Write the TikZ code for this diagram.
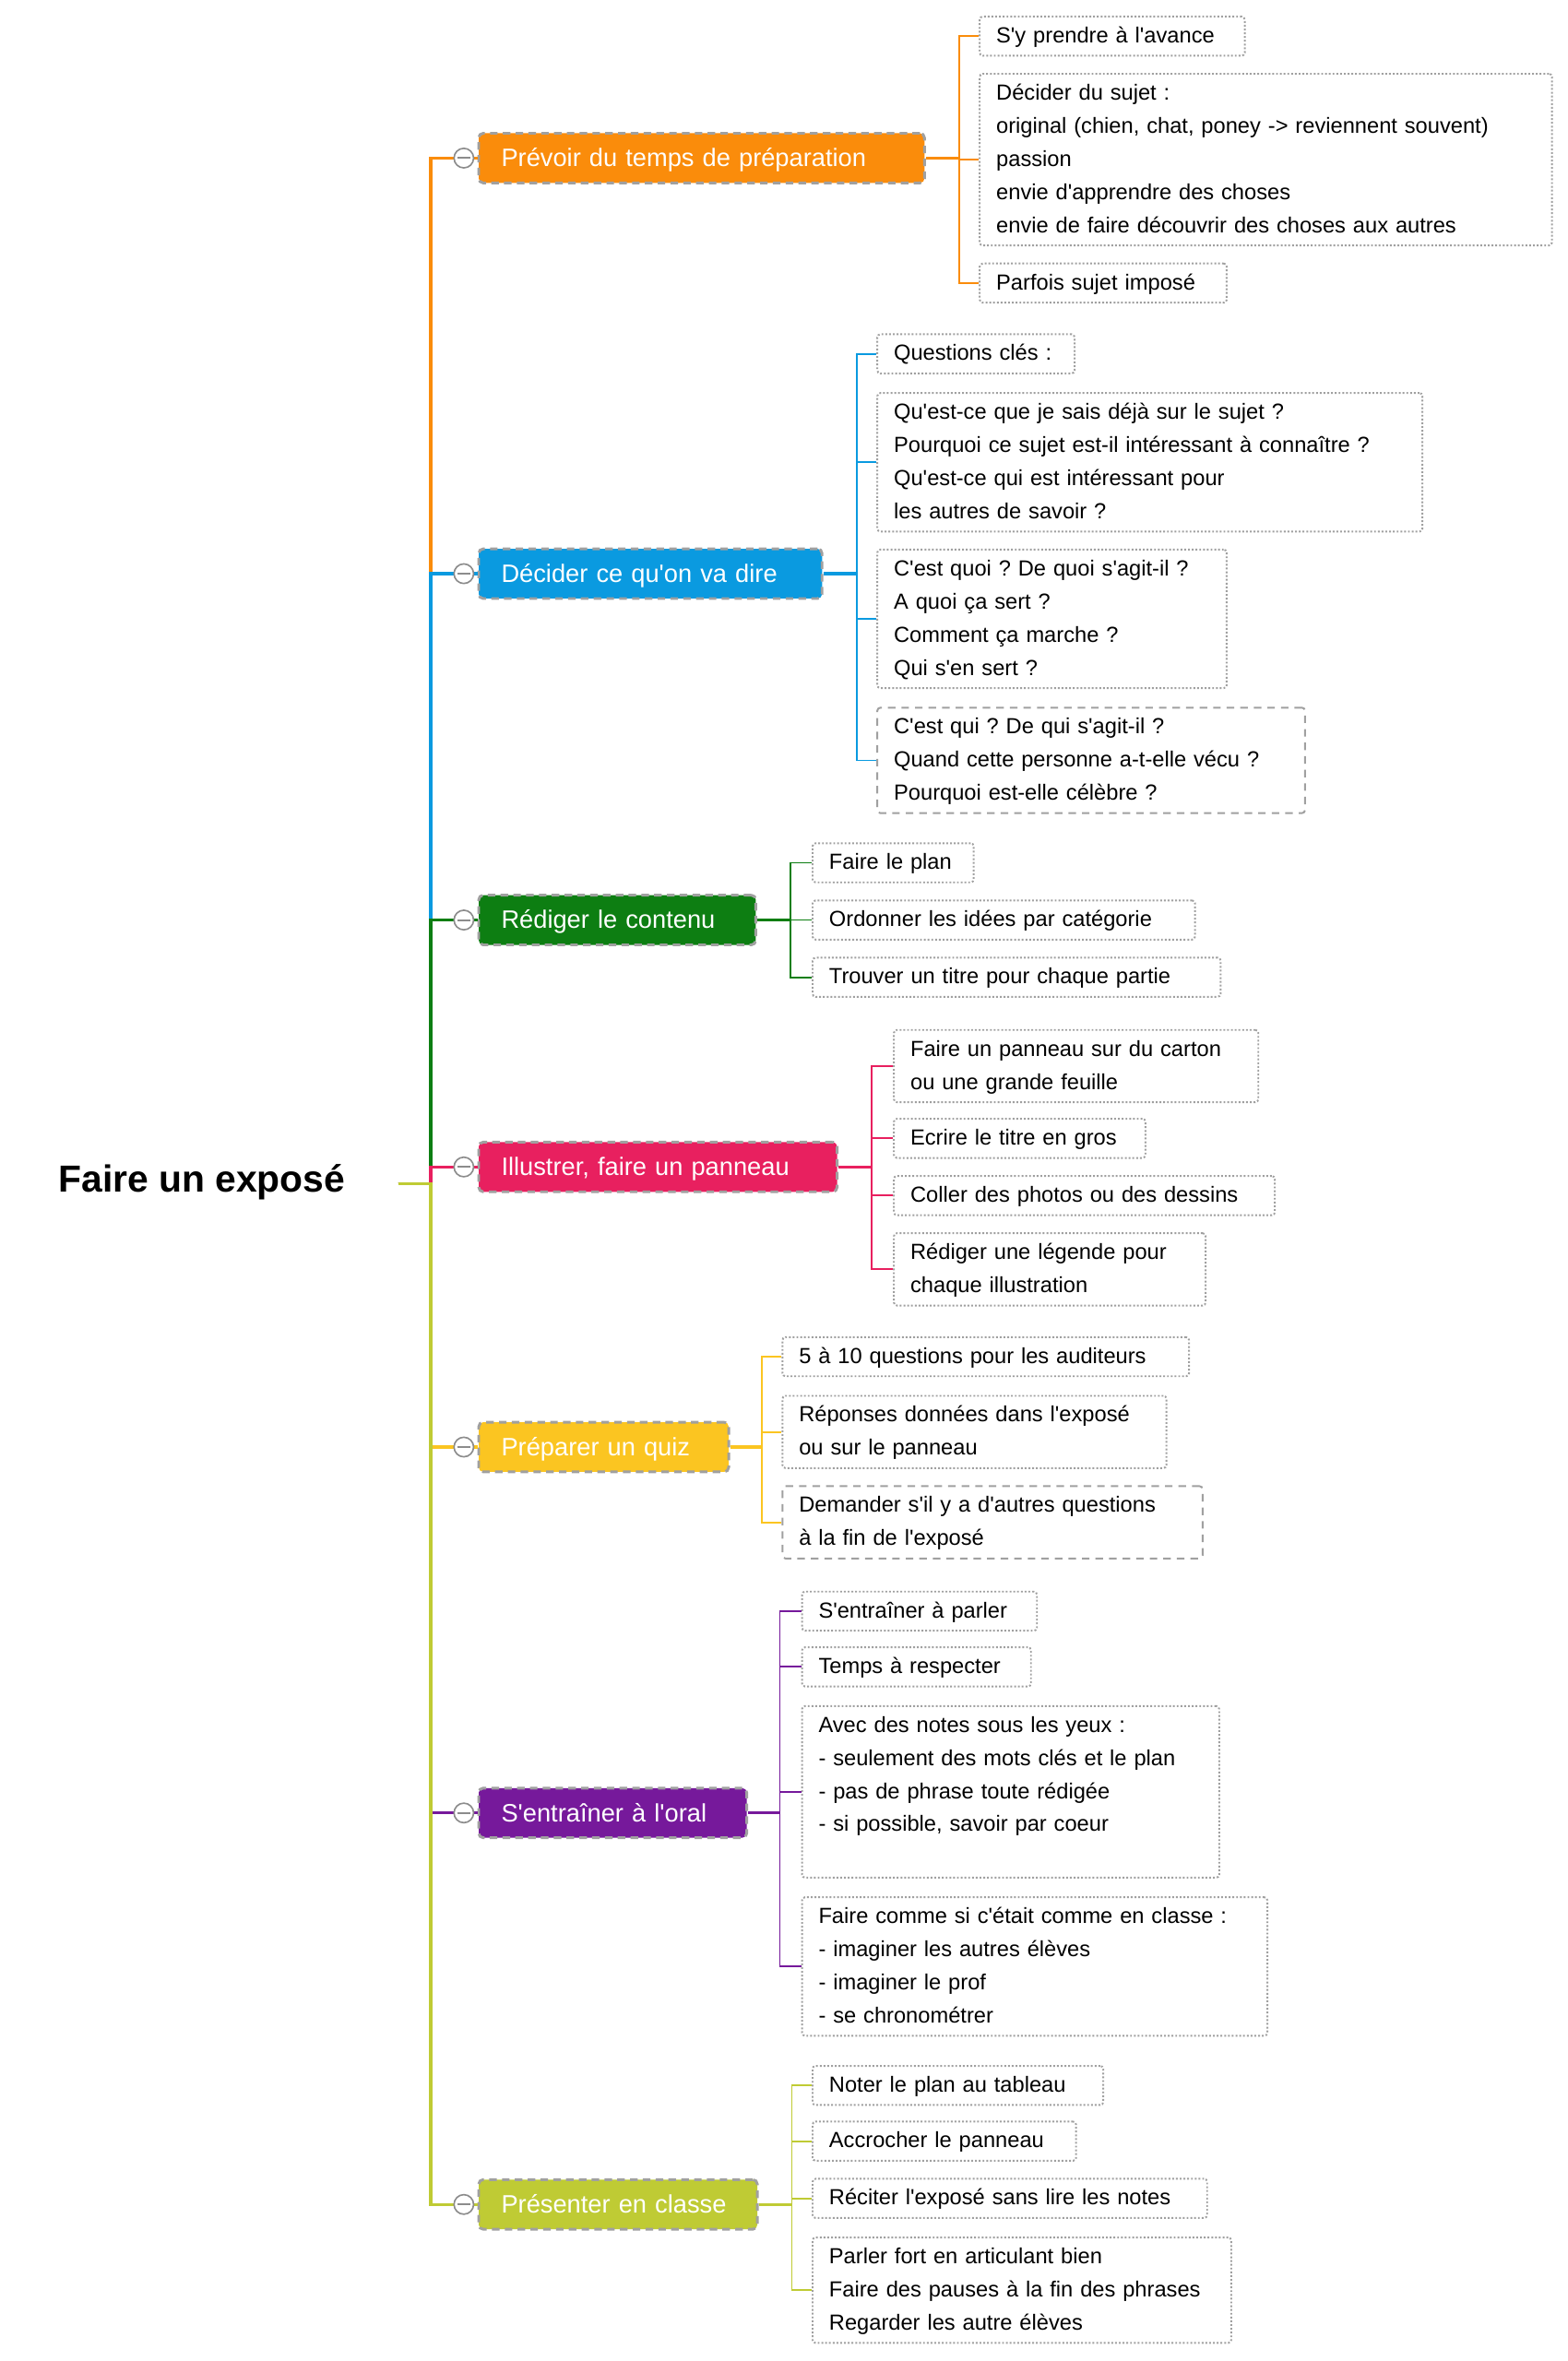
\documentclass[tikz,border=0pt]{standalone}
\usepackage{fontspec}
\setmainfont{Liberation Sans}[Ligatures=TeXOff]
\usetikzlibrary{calc}
\definecolor{brA}{HTML}{FA8C0B}
\definecolor{brB}{HTML}{0A9AE0}
\definecolor{brC}{HTML}{0D7E12}
\definecolor{brD}{HTML}{E8205F}
\definecolor{brE}{HTML}{FBC521}
\definecolor{brF}{HTML}{76199B}
\definecolor{brG}{HTML}{BFCB34}
\definecolor{boxline}{HTML}{A0A0A0}
\definecolor{knobline}{HTML}{8C8C8C}
\frenchspacing

\begin{document}
\begin{tikzpicture}[x=1pt,y=-1pt,
  mainbox/.style={fill=#1,draw=boxline,line width=1.8pt,dash pattern=on 5pt off 3.5pt,rounded corners=3pt,text=white,anchor=west,minimum height=33pt,inner xsep=15pt,text height=12pt,text depth=0.5pt,align=left,font=\fontsize{16.7}{20}\selectfont},
  subbox/.style={draw=boxline,line width=1.2pt,dash pattern=on 1.2pt off 1.3pt,rounded corners=2pt,anchor=west,inner xsep=11pt,inner ysep=2pt,align=left,font=\fontsize{14.5}{22}\selectfont,execute at begin node=\strut,execute at end node=\strut},
  subdash/.style={subbox,dash pattern=on 5pt off 4pt},
  trunk/.style={#1,line width=2pt},
  twig/.style={#1,line width=1.1pt},
  knob/.style={circle,draw=knobline,fill=white,line width=1pt,minimum size=13pt,inner sep=0pt,path picture={\draw[knobline,line width=1.2pt] ([xshift=-4.5pt]path picture bounding box.center)--([xshift=4.5pt]path picture bounding box.center);}}]
\useasboundingbox (0,0) rectangle (1041,1568);
\node[font=\fontsize{25}{30}\selectfont\bfseries,inner xsep=35pt,text height=17.9pt,text depth=6.7pt] (root) at (134,786) {Faire un exposé};
\coordinate (tr) at (286,786);
% main branches
\node[mainbox=brA,text width=266pt] (pv) at (317,105) {Prévoir du temps de préparation};
\node[mainbox=brB,text width=198pt] (dc) at (317,381) {Décider ce qu'on va dire};
\node[mainbox=brC,text width=154pt] (rd) at (317,611) {Rédiger le contenu};
\node[mainbox=brD,text width=208pt] (il) at (317,775) {Illustrer, faire un panneau};
\node[mainbox=brE,text width=136pt] (pq) at (317,961) {Préparer un quiz};
\node[mainbox=brF,text width=148pt] (so) at (317,1204) {S'entraîner à l'oral};
\node[mainbox=brG,text width=155pt] (pc) at (317,1464) {Présenter en classe};
% leaves
\node[subbox,text width=154pt] (pv1) at (650,24) {S'y prendre à l'avance};
\node[subbox,text width=358pt] (pv2) at (650,106) {Décider du sujet :\\original (chien, chat, poney -> reviennent souvent)\\passion\\envie d'apprendre des choses\\envie de faire découvrir des choses aux autres};
\node[subbox,text width=142pt] (pv3) at (650,188) {Parfois sujet imposé};
\node[subbox,text width=109pt] (dc1) at (582,235) {Questions clés :};
\node[subbox,text width=340pt] (dc2) at (582,307) {Qu'est-ce que je sais déjà sur le sujet ?\\Pourquoi ce sujet est-il intéressant à connaître ?\\Qu'est-ce qui est intéressant pour\\les autres de savoir ?};
\node[subbox,text width=210pt] (dc3) at (582,411) {C'est quoi ? De quoi s'agit-il ?\\A quoi ça sert ?\\Comment ça marche ?\\Qui s'en sert ?};
\node[subdash,text width=262pt] (dc4) at (582,505) {C'est qui ? De qui s'agit-il ?\\Quand cette personne a-t-elle vécu ?\\Pourquoi est-elle célèbre ?};
\node[subbox,text width=85pt] (rd1) at (539,573) {Faire le plan};
\node[subbox,text width=232pt] (rd2) at (539,611) {Ordonner les idées par catégorie};
\node[subbox,text width=249pt] (rd3) at (539,649) {Trouver un titre pour chaque partie};
\node[subbox,text width=220pt] (il1) at (593,708) {Faire un panneau sur du carton\\ou une grande feuille};
\node[subbox,text width=145pt] (il2) at (593,756) {Ecrire le titre en gros};
\node[subbox,text width=231pt] (il3) at (593,794) {Coller des photos ou des dessins};
\node[subbox,text width=185pt] (il4) at (593,843) {Rédiger une légende pour\\chaque illustration};
\node[subbox,text width=248pt] (pq1) at (519,901) {5 à 10 questions pour les auditeurs};
\node[subbox,text width=233pt] (pq2) at (519,951) {Réponses données dans l'exposé\\ou sur le panneau};
\node[subdash,text width=257pt] (pq3) at (519,1011) {Demander s'il y a d'autres questions\\à la fin de l'exposé};
\node[subbox,text width=134pt] (so1) at (532,1070) {S'entraîner à parler};
\node[subbox,text width=130pt] (so2) at (532,1107) {Temps à respecter};
\node[subbox,text width=255pt] (so3) at (532,1190) {Avec des notes sous les yeux :\\- seulement des mots clés et le plan\\- pas de phrase toute rédigée\\- si possible, savoir par coeur\\\mbox{}};
\node[subbox,text width=287pt] (so4) at (532,1306) {Faire comme si c'était comme en classe :\\- imaginer les autres élèves\\- imaginer le prof\\- se chronométrer};
\node[subbox,text width=171pt] (pc1) at (539,1385) {Noter le plan au tableau};
\node[subbox,text width=153pt] (pc2) at (539,1422) {Accrocher le panneau};
\node[subbox,text width=240pt] (pc3) at (539,1460) {Réciter l'exposé sans lire les notes};
\node[subbox,text width=256pt] (pc4) at (539,1521) {Parler fort en articulant bien\\Faire des pauses à la fin des phrases\\Regarder les autre élèves};
% trunk, drawn in this order so the lower ones cover the upper ones
\draw[trunk=brA] (root.east) -- (tr) |- (pv.west);
\draw[trunk=brB] (root.east) -- (tr) |- (dc.west);
\draw[trunk=brC] (root.east) -- (tr) |- (rd.west);
\draw[trunk=brD] (root.east) -- (tr) |- (il.west);
\draw[trunk=brE] (root.east) -- (tr) |- (pq.west);
\draw[trunk=brF] (root.east) -- (tr) |- (so.west);
\draw[trunk=brG] (root.east) -- (tr) |- (pc.west);
% branch to leaves
\draw[trunk=brA] (pv.east) -- ++(22,0) coordinate (pvs);
\draw[twig=brA] (pvs) |- (pv1.west) (pvs) |- (pv2.west) (pvs) |- (pv3.west);
\draw[trunk=brB] (dc.east) -- ++(22,0) coordinate (dcs);
\draw[twig=brB] (dcs) |- (dc1.west) (dcs) |- (dc2.west) (dcs) |- (dc3.west) (dcs) |- (dc4.west);
\draw[trunk=brC] (rd.east) -- ++(22,0) coordinate (rds);
\draw[twig=brC] (rds) |- (rd1.west) (rds) |- (rd2.west) (rds) |- (rd3.west);
\draw[trunk=brD] (il.east) -- ++(22,0) coordinate (ils);
\draw[twig=brD] (ils) |- (il1.west) (ils) |- (il2.west) (ils) |- (il3.west) (ils) |- (il4.west);
\draw[trunk=brE] (pq.east) -- ++(21,0) coordinate (pqs);
\draw[twig=brE] (pqs) |- (pq1.west) (pqs) |- (pq2.west) (pqs) |- (pq3.west);
\draw[trunk=brF] (so.east) -- ++(21,0) coordinate (sos);
\draw[twig=brF] (sos) |- (so1.west) (sos) |- (so2.west) (sos) |- (so3.west) (sos) |- (so4.west);
\draw[trunk=brG] (pc.east) -- ++(22,0) coordinate (pcs);
\draw[twig=brG] (pcs) |- (pc1.west) (pcs) |- (pc2.west) (pcs) |- (pc3.west) (pcs) |- (pc4.west);
% collapse knobs
\node[knob] (k1) at (308,105) {};
\node[knob] (k2) at (308,381) {};
\node[knob] (k3) at (308,611) {};
\node[knob] (k4) at (308,775) {};
\node[knob] (k5) at (308,961) {};
\node[knob] (k6) at (308,1204) {};
\node[knob] (k7) at (308,1464) {};
\end{tikzpicture}
\end{document}
